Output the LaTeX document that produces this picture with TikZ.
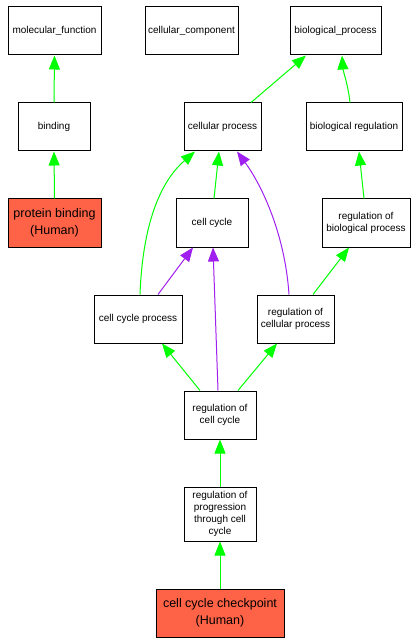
\documentclass[tikz,border=0pt]{standalone}
\usepackage{fontspec}
\setmainfont{Liberation Sans}
\usetikzlibrary{arrows.meta}
\definecolor{gogreen}{RGB}{0,255,0}
\definecolor{gopurple}{RGB}{160,32,240}
\definecolor{gored}{RGB}{255,99,71}
\tikzset{
  gobox/.style={draw=black, line width=1pt, fill=white, align=center, inner sep=1pt,
    font=\fontsize{10}{12}\selectfont, minimum height=48pt},
  hitbox/.style={gobox, fill=gored, font=\fontsize{12.5}{16.5}\selectfont},
  isa/.style={draw=gogreen, line width=1pt, -{Triangle[length=14pt,width=11pt]}},
  partof/.style={draw=gopurple, line width=1pt, -{Triangle[length=14pt,width=11pt]}}
}
\begin{document}
\begin{tikzpicture}[x=1pt,y=-1pt]
\useasboundingbox (0,0) rectangle (418,644);
\fill[white] (0,0) rectangle (418,644);
% nodes
\node[gobox, minimum width=93pt] (mf) at (54.5,31) {molecular\_function};
\node[gobox, minimum width=93pt] (cc) at (191.5,31) {cellular\_component};
\node[gobox, minimum width=91pt] (bp) at (335.5,31) {biological\_process};
\node[gobox, minimum width=72pt] (bind) at (54,127) {binding};
\node[gobox, minimum width=77pt] (cp) at (222.5,127) {cellular process};
\node[gobox, minimum width=96pt] (br) at (354,127) {biological regulation};
\node[hitbox, minimum width=93pt] (pb) at (54.5,223) {protein binding\\(Human)};
\node[gobox, minimum width=72pt] (cyc) at (212,223) {cell cycle};
\node[gobox, minimum width=88pt] (rbp) at (366,223) {regulation of\\biological process};
\node[gobox, minimum width=88pt] (ccp) at (138,319) {cell cycle process};
\node[gobox, minimum width=77pt] (rcp) at (295.5,319) {regulation of\\cellular process};
\node[gobox, minimum width=72pt] (rcc) at (220,415) {regulation of\\cell cycle};
\node[gobox, minimum width=72pt, minimum height=54pt] (rpc) at (220,514) {regulation of\\progression\\through cell\\cycle};
\node[hitbox, minimum width=128pt] (chk) at (220,613) {cell cycle checkpoint\\(Human)};
% edges
\draw[isa] (bind.north) -- (mf.south);
\draw[isa] (pb.north) -- (bind.south);
\draw[isa] ([xshift=28.5pt]cp.north) -- ([xshift=-29.5pt]bp.south);
\draw[isa] ([xshift=-4pt]br.north) .. controls ([xshift=-6pt,yshift=18pt]br.north) and ([xshift=7.5pt,yshift=-15pt]bp.south) .. ([xshift=6.5pt]bp.south);
\draw[isa] ([xshift=2pt]cyc.north) -- ([xshift=-3.5pt]cp.south);
\draw[isa] ([xshift=2pt]ccp.north) .. controls ([xshift=5pt,yshift=80pt]ccp.north) and ([xshift=-57.5pt,yshift=-26pt]cp.south) .. ([xshift=-27.5pt]cp.south);
\draw[partof] ([xshift=20pt]ccp.north) -- ([xshift=-19pt]cyc.south);
\draw[partof] ([xshift=-2pt]rcc.north) -- ([xshift=1pt]cyc.south);
\draw[partof] ([xshift=-6.5pt]rcp.north) .. controls ([xshift=-10.5pt,yshift=60pt]rcp.north) and ([xshift=39.5pt,yshift=-34pt]cp.south) .. ([xshift=14.5pt]cp.south);
\draw[isa] ([xshift=17.5pt]rcp.north) -- ([xshift=-17pt]rbp.south);
\draw[isa] ([xshift=-2pt]rbp.north) -- ([xshift=5pt]br.south);
\draw[isa] ([xshift=-20pt]rcc.north) -- ([xshift=24pt]ccp.south);
\draw[isa] ([xshift=18pt]rcc.north) -- ([xshift=-18.5pt]rcp.south);
\draw[isa] (rpc.north) -- (rcc.south);
\draw[isa] (chk.north) -- (rpc.south);
\end{tikzpicture}
\end{document}
